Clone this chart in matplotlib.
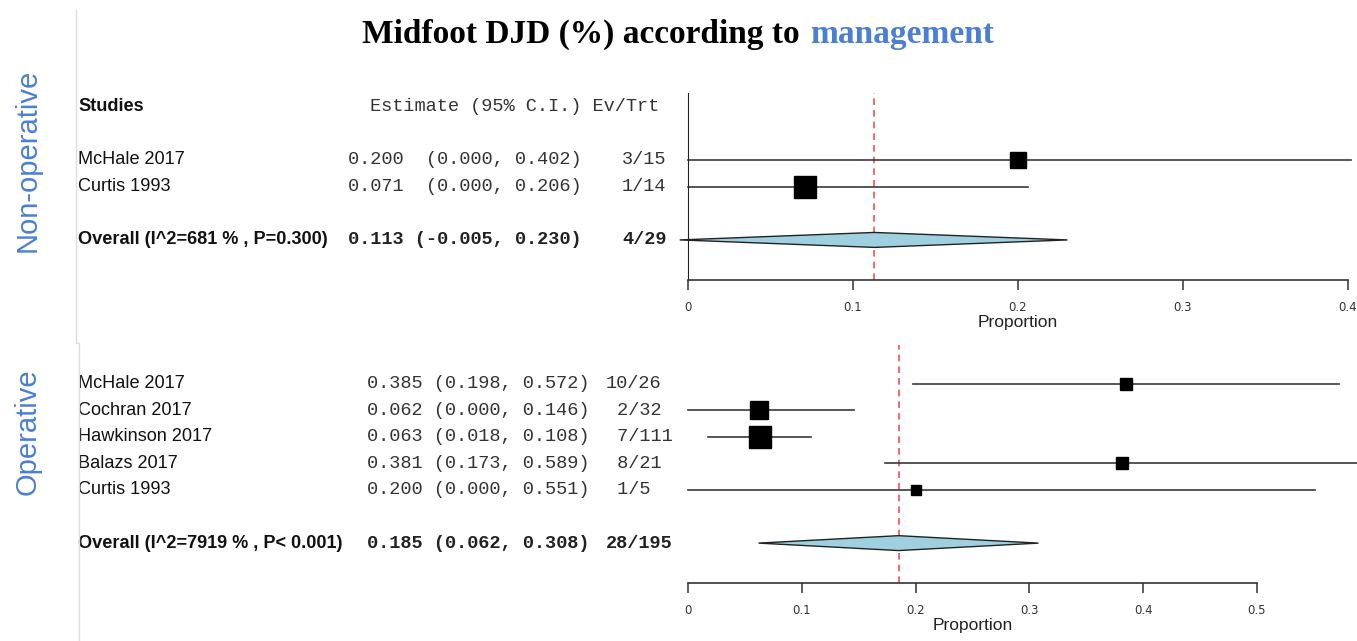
import matplotlib
matplotlib.use("Agg")
import matplotlib.pyplot as plt
import matplotlib.transforms as mtransforms

W, H = 1357, 641
BLUE = "#4a7fd4"

# Non-operative group
nonop_studies = ["McHale 2017", "Curtis 1993"]
nonop_est = [0.200, 0.071]
nonop_lo = [0.000, 0.000]
nonop_hi = [0.402, 0.206]
nonop_evtrt = ["3/15", "1/14"]
nonop_size = [16, 22]  # square side, px
nonop_overall = [0.113, -0.005, 0.230]
nonop_overall_label = "Overall (I^2=681 % , P=0.300)"
nonop_overall_evtrt = "4/29"

# Operative group
op_studies = ["McHale 2017", "Cochran 2017", "Hawkinson 2017", "Balazs 2017", "Curtis 1993"]
op_est = [0.385, 0.062, 0.063, 0.381, 0.200]
op_lo = [0.198, 0.000, 0.018, 0.173, 0.000]
op_hi = [0.572, 0.146, 0.108, 0.589, 0.551]
op_evtrt = ["10/26", " 2/32", " 7/111", " 8/21", " 1/5"]
op_size = [12, 18, 23, 12, 10]
op_overall = [0.185, 0.062, 0.308]
op_overall_label = "Overall (I^2=7919 % , P< 0.001)"
op_overall_evtrt = "28/195"

nonop_ticks = [0, 0.1, 0.2, 0.3, 0.4]
op_ticks = [0, 0.1, 0.2, 0.3, 0.4, 0.5]

SANS = 13.1
MONO = 13.4

fig = plt.figure(figsize=(W / 100, H / 100), dpi=100)
fig.patch.set_facecolor("white")


def fx(px):
    return px / W


def fy(py):
    return 1 - py / H


def forest(ax, studies, est, lo, hi, evtrt, sizes, overall, ov_label, ov_evtrt,
           ticks, est_x, ev_x, sep, header, left_spine):
    n = len(studies)
    rows = [n + 2 - i for i in range(n)]
    tr = mtransforms.blended_transform_factory(fig.transFigure, ax.transData)
    for r, s, e, l, h, ev, sz in zip(rows, studies, est, lo, hi, evtrt, sizes):
        ax.plot([l, h], [r, r], color="#3a3a3a", lw=1.2, clip_on=False, zorder=2)
        ax.plot([e], [r], marker="s", ms=sz * 0.72, color="black", mec="black",
                clip_on=False, zorder=3)
        ax.text(fx(78), r, s, transform=tr, ha="left", va="center",
                fontsize=SANS, family="Liberation Sans", color="#111111")
        ax.text(fx(est_x), r, ("%.3f" + sep + "(%.3f, %.3f)") % (e, l, h),
                transform=tr, ha="left", va="center",
                fontsize=MONO, family="Liberation Mono", color="#333333")
        ax.text(fx(ev_x), r, ev, transform=tr, ha="left",
                va="center", fontsize=MONO, family="Liberation Mono", color="#333333")
    m, l, h = overall
    d = 0.28
    ax.fill([l, m, h, m], [1, 1 + d, 1, 1 - d], facecolor="#9fd0e0",
            edgecolor="#222222", lw=1.0, clip_on=False, zorder=3)
    ax.axvline(m, color="#f05050", ls=(0, (4, 3)), lw=1.2, zorder=1)
    ax.text(fx(78), 1, ov_label, transform=tr, ha="left", va="center",
            fontsize=SANS, family="Liberation Sans", weight="bold", color="#111111")
    ax.text(fx(est_x), 1, "%.3f (%.3f, %.3f)" % (m, l, h),
            transform=tr, ha="left", va="center",
            fontsize=MONO, family="Liberation Mono", weight="bold", color="#222222")
    ax.text(fx(ev_x), 1, ov_evtrt, transform=tr, ha="left",
            va="center", fontsize=MONO, family="Liberation Mono", weight="bold",
            color="#222222")
    if header:
        ax.text(fx(78), n + 4, "Studies", transform=tr, ha="left", va="center",
                fontsize=SANS, family="Liberation Sans", weight="bold", color="#111111")
        ax.text(fx(370), n + 4, "Estimate (95% C.I.) Ev/Trt", transform=tr,
                ha="left", va="center", fontsize=MONO, family="Liberation Mono",
                color="#333333")
    for sp in ["top", "right"]:
        ax.spines[sp].set_visible(False)
    ax.spines["left"].set_visible(left_spine)
    ax.spines["left"].set_color("#222222")
    ax.spines["bottom"].set_color("#333333")
    ax.spines["bottom"].set_linewidth(1.2)
    ax.set_yticks([])
    ax.set_xticks(ticks)
    ax.set_xticklabels([("%g" % t) for t in ticks])
    ax.tick_params(axis="x", direction="out", length=7, width=1.1, color="#333333",
                   labelsize=8.5, labelcolor="#333333", pad=8)
    ax.set_xlabel("Proportion", fontsize=12.5, family="Liberation Sans", labelpad=1,
                  color="#222222")
    ax.patch.set_alpha(0)


# top panel: 0 -> x=688, 0.4 -> x=1348, axis at y=280, top y=93
ax1 = fig.add_axes([fx(688), fy(280), fx(1348) - fx(688), fy(93) - fy(280)])
ax1.set_xlim(0, 0.4)
ax1.set_ylim(-0.5, 6.5)
forest(ax1, nonop_studies, nonop_est, nonop_lo, nonop_hi, nonop_evtrt, nonop_size,
       nonop_overall, nonop_overall_label, nonop_overall_evtrt, nonop_ticks,
       348, 622, "  ", True, True)

# bottom panel: 0 -> x=688, 0.5 -> x=1257, axis at y=583
ax2 = fig.add_axes([fx(688), fy(583), fx(1257) - fx(688), fy(345) - fy(583)])
ax2.set_xlim(0, 0.5)
ax2.set_ylim(-0.5, 8.45)
forest(ax2, op_studies, op_est, op_lo, op_hi, op_evtrt, op_size,
       op_overall, op_overall_label, op_overall_evtrt, op_ticks,
       367, 606, " ", False, False)

# title
fig.text(fx(800), fy(34), "Midfoot DJD (%) according to", ha="right", va="center",
         fontsize=24, family="Liberation Serif", weight="bold", color="black")
fig.text(fx(810), fy(34), "management", ha="left", va="center",
         fontsize=24, family="Liberation Serif", weight="bold", color=BLUE)

# group labels
fig.text(fx(28), fy(160), "Non-operative", rotation=90, ha="center", va="center",
         fontsize=21, family="Liberation Sans", color=BLUE)
fig.text(fx(28), fy(432), "Operative", rotation=90, ha="center", va="center",
         fontsize=21, family="Liberation Sans", color=BLUE)

# faint slide border
fig.add_artist(plt.Line2D([fx(76), fx(76), fx(79), fx(79)],
                          [fy(10), fy(343), fy(343), fy(641)],
                          transform=fig.transFigure, color="#dddddd", lw=1))

fig.savefig("out.png", dpi=100, facecolor="white")
